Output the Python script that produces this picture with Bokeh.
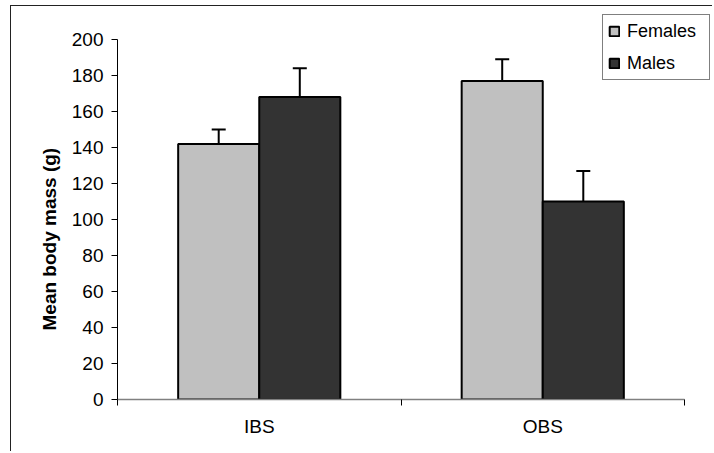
from bokeh.plotting import figure
from bokeh.models import (ColumnDataSource, Range1d, FixedTicker, Whisker, TeeHead,
                          Legend, LegendItem, Title)
from bokeh.embed import file_html
from bokeh.resources import INLINE

categories = ["IBS", "OBS"]
females = [142, 177]
females_err = [8, 12]
males = [168, 110]
males_err = [16, 17]
y_ticks = [0, 20, 40, 60, 80, 100, 120, 140, 160, 180, 200]

bar_w = 0.286
centers = [i + 0.5 for i in range(len(categories))]

src_f = ColumnDataSource(dict(x=[c - bar_w / 2 for c in centers], top=females,
                              upper=[v + e for v, e in zip(females, females_err)]))
src_m = ColumnDataSource(dict(x=[c + bar_w / 2 for c in centers], top=males,
                              upper=[v + e for v, e in zip(males, males_err)]))

W, H = 702, 446
ML, MR, MT, MB = 106, 0, 2, 53
frame_w = W - ML - MR
frame_h = H - MT - MB
px_per_cat = 283.5
px_per_unit = 1.8

p = figure(width=W, height=H, output_backend="svg", toolbar_location=None,
           x_range=Range1d(0, frame_w / px_per_cat), y_range=Range1d(0, frame_h / px_per_unit),
           min_border_left=ML, min_border_right=MR, min_border_top=MT, min_border_bottom=MB)
p.styles = {"margin-left": "10px", "margin-top": "5px",
            "border-left": "1px solid #222222", "border-top": "1px solid #222222"}
p.outline_line_color = None
p.grid.visible = False

FONT = "Liberation Sans"

rf = p.vbar(x="x", top="top", width=bar_w, bottom=0, source=src_f,
            fill_color="#C0C0C0", line_color="black", line_width=2)
rm = p.vbar(x="x", top="top", width=bar_w, bottom=0, source=src_m,
            fill_color="#333333", line_color="black", line_width=2)

for src in (src_f, src_m):
    w = Whisker(base="x", lower="top", upper="upper", source=src, line_width=2,
                line_color="black", lower_head=None,
                upper_head=TeeHead(size=14, line_width=2, line_color="black"),
                level="overlay")
    p.add_layout(w)

# y axis
ya = p.yaxis[0]
ya.bounds = (0, 200)
ya.ticker = FixedTicker(ticks=y_ticks, minor_ticks=[])
ya.axis_line_color = "black"
ya.major_tick_in = 0
ya.major_tick_out = 6
ya.major_tick_line_color = "black"
ya.major_label_standoff = 8
ya.major_label_text_font = FONT
ya.major_label_text_font_size = "19px"
ya.major_label_text_color = "black"

ytitle = Title(text="Mean body mass (g)", align="left", offset=69, standoff=18,
               text_font=FONT, text_font_style="bold", text_font_size="19px",
               text_color="black")
p.add_layout(ytitle, "left")

# x axis
xa = p.xaxis[0]
xa.bounds = (0, len(categories))
xa.ticker = FixedTicker(ticks=centers, minor_ticks=list(range(len(categories) + 1)))
xa.major_label_overrides = {c: lab for c, lab in zip(centers, categories)}
xa.axis_line_color = "#808080"
xa.axis_line_width = 1.5
xa.major_tick_in = 0
xa.major_tick_out = 0
xa.minor_tick_in = 0
xa.minor_tick_out = 6
xa.minor_tick_line_color = "black"
xa.major_label_standoff = 10
xa.major_label_text_font = FONT
xa.major_label_text_font_size = "19px"
xa.major_label_text_color = "black"

legend = Legend(items=[LegendItem(label="Females", renderers=[rf]),
                       LegendItem(label="Males", renderers=[rm])],
                location=(485, 319))
legend.border_line_color = "black"
legend.border_line_width = 1
legend.background_fill_alpha = 1
legend.label_text_font = FONT
legend.label_text_font_size = "18px"
legend.label_text_color = "black"
legend.glyph_width = 12
legend.glyph_height = 12
legend.label_height = 22
legend.label_width = 77
legend.padding = 5
legend.spacing = 10
legend.margin = 0
legend.label_standoff = 7
p.add_layout(legend, "center")

open("out.html", "w").write(file_html(p, INLINE))
